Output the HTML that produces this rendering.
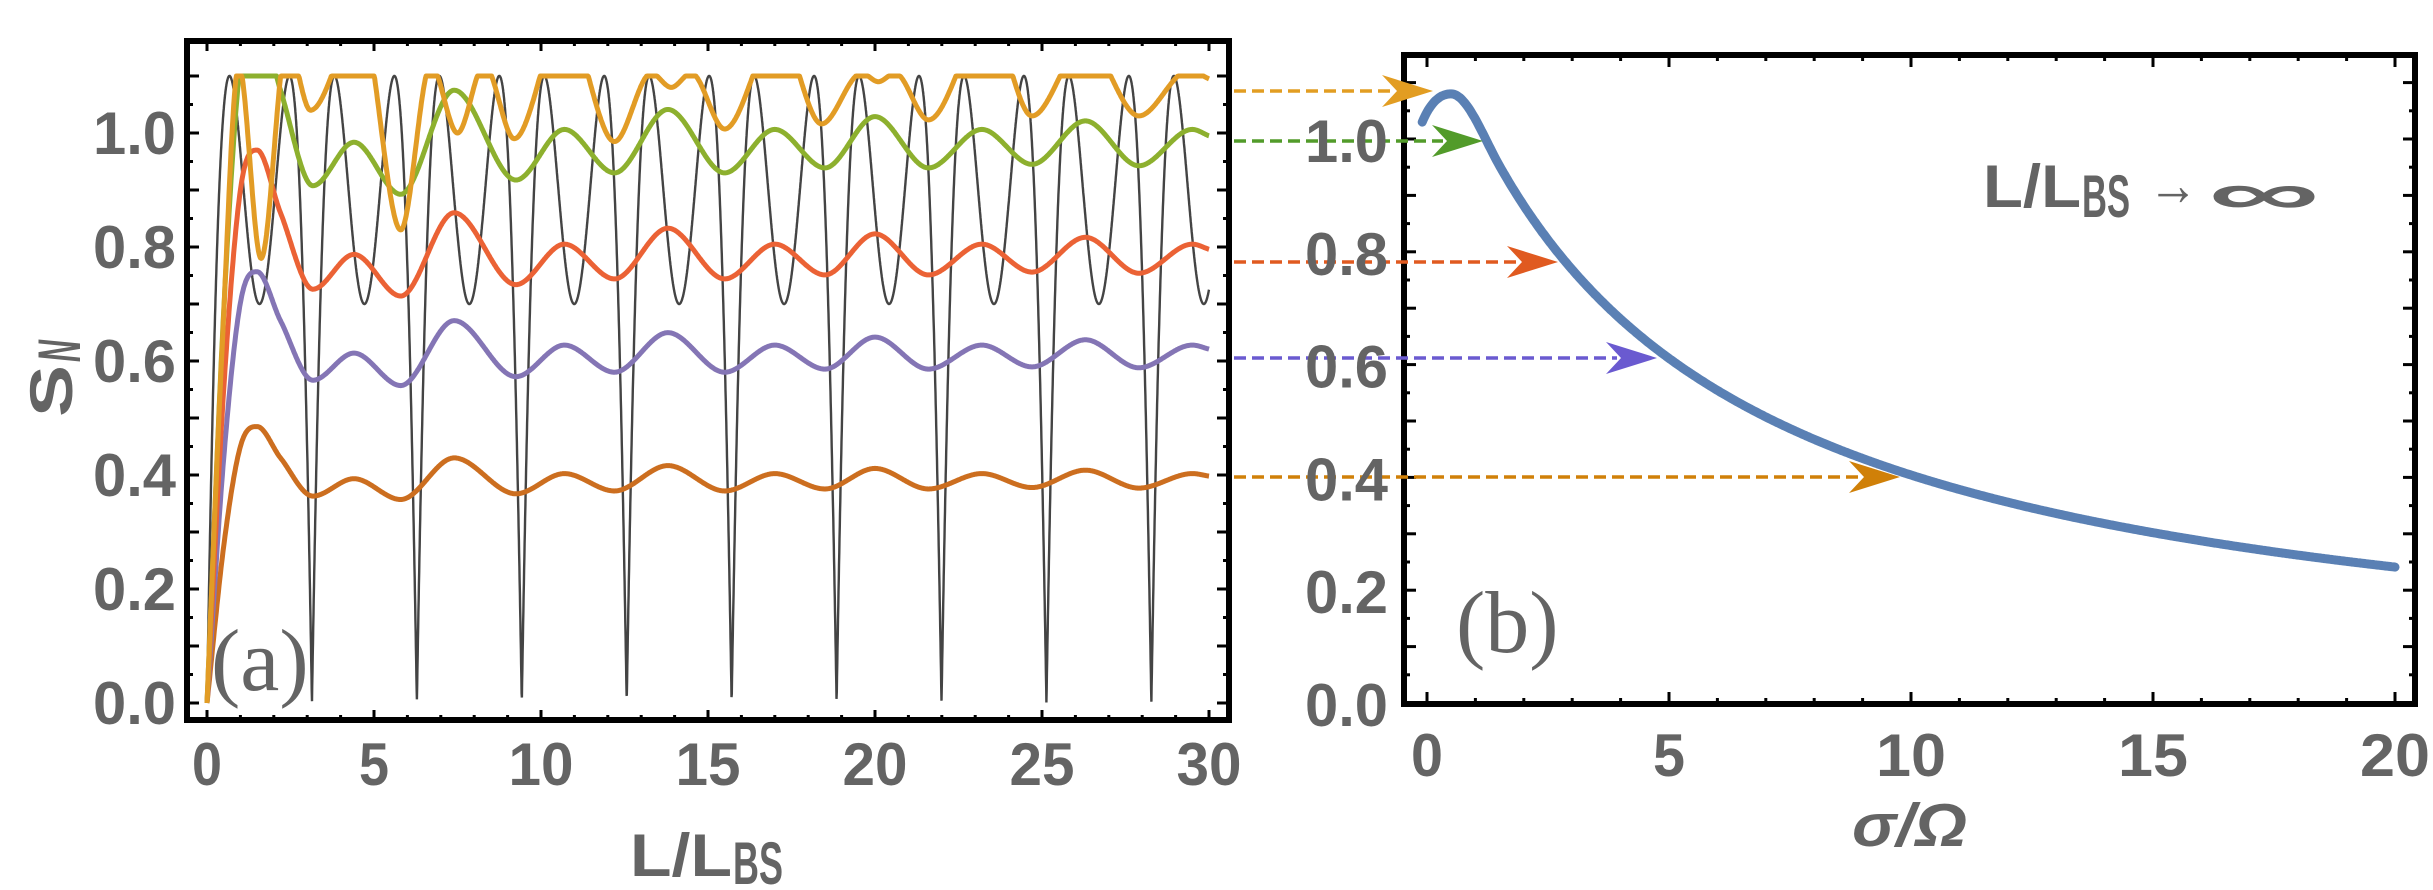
<!DOCTYPE html>
<html><head><meta charset="utf-8"><style>
html,body{margin:0;padding:0;background:#fff;}
svg{display:block;}
.t{font-family:"Liberation Sans Narrow","Liberation Sans",sans-serif;font-weight:bold;fill:#646464;font-size:60px;}
</style></head><body>
<svg id="s" width="2433" height="890" viewBox="0 0 2433 890" xmlns="http://www.w3.org/2000/svg">
<defs>
<clipPath id="ca"><rect x="190" y="44" width="1036" height="673"/></clipPath>
<clipPath id="cb"><rect x="1407" y="58" width="1005" height="643"/></clipPath>
</defs>
<g id="ga" clip-path="url(#ca)"></g>
<g id="gb" clip-path="url(#cb)"></g>
<g id="ticks"></g>
<rect x="187" y="41" width="1042" height="679" fill="none" stroke="#000" stroke-width="6"/>
<rect x="1404" y="55" width="1011" height="649" fill="none" stroke="#000" stroke-width="6"/>
<g id="arrows"></g>
<g id="labels"></g>
<text x="211" y="690" font-family="Liberation Serif,serif" font-size="88" fill="#646464">(a)</text>
<text x="1456" y="652" font-family="Liberation Serif,serif" font-size="88" fill="#646464">(b)</text>
<text class="t" x="630" y="876" textLength="102" lengthAdjust="spacingAndGlyphs">L/L</text>
<text class="t" x="733" y="884" font-size="42" textLength="50" lengthAdjust="spacingAndGlyphs">BS</text>
<text class="t" transform="translate(72,417) rotate(-90)" textLength="52" lengthAdjust="spacingAndGlyphs">S</text>
<text class="t" transform="translate(80,362) rotate(-90)" font-size="40" font-style="italic" textLength="22" lengthAdjust="spacingAndGlyphs">N</text>
<text class="t" x="1852" y="846" textLength="115" lengthAdjust="spacingAndGlyphs" font-style="italic">σ/Ω</text>
<text class="t" x="1983" y="207" textLength="98" lengthAdjust="spacingAndGlyphs">L/L</text>
<text class="t" x="2082" y="217" font-size="42" textLength="48" lengthAdjust="spacingAndGlyphs">BS</text>
<text class="t" x="2148" y="205" font-size="60" textLength="50" lengthAdjust="spacingAndGlyphs">→</text>
<text class="t" x="2208" y="214" font-size="90" textLength="112" lengthAdjust="spacingAndGlyphs">∞</text>
</svg>
<script>
var NS="http://www.w3.org/2000/svg";
function el(p,t,a){var e=document.createElementNS(NS,t);for(var k in a)e.setAttribute(k,a[k]);p.appendChild(e);return e;}
function herm(pts){
  var n=pts.length,m=[];
  for(var i=0;i<n;i++){
    if(i==0)m.push((pts[1][1]-pts[0][1])/(pts[1][0]-pts[0][0]));
    else if(i==n-1)m.push((pts[i][1]-pts[i-1][1])/(pts[i][0]-pts[i-1][0]));
    else{var d1=pts[i][1]-pts[i-1][1],d2=pts[i+1][1]-pts[i][1];
      if(d1*d2<=0)m.push(0);else m.push((pts[i+1][1]-pts[i-1][1])/(pts[i+1][0]-pts[i-1][0]));}
  }
  return function(x){
    var i=0;while(i<n-2&&x>pts[i+1][0])i++;
    var x0=pts[i][0],x1=pts[i+1][0],h=x1-x0,t=(x-x0)/h;
    if(t<0)t=0;if(t>1)t=1;
    var t2=t*t,t3=t2*t;
    return (2*t3-3*t2+1)*pts[i][1]+(t3-2*t2+t)*h*m[i]+(-2*t3+3*t2)*pts[i+1][1]+(t3-t2)*h*m[i+1];
  };
}
function h1(x,x0,y0,m0,x1,y1,m1){var h=x1-x0,t=(x-x0)/h,t2=t*t,t3=t2*t;
  return (2*t3-3*t2+1)*y0+(t3-2*t2+t)*h*m0+(-2*t3+3*t2)*y1+(t3-t2)*h*m1;}
function XA(L){return 207+L*33.4;} function YA(S){return 703-S*570;}
function XB(s){return 1427+s*48.4;} function YB(S){return 703-S*564;}
function path(f,x0,x1,N,X,Y){var d="";for(var i=0;i<=N;i++){var x=x0+(x1-x0)*i/N;d+=(i?"L":"M")+X(x).toFixed(1)+" "+Y(f(x)).toFixed(1);}return d;}
var ga=document.getElementById("ga");
el(ga,"path",{d:path(function(L){var u=Math.abs(Math.sin(L));return 3.527*u-2.827*u*u;},0,30,4000,XA,YA),fill:"none",stroke:"#444","stroke-width":2.4});
var red=herm([[0,0],[0.5,0.55],[1.0,0.9],[1.5,0.97],[2.2,0.86],[3.17,0.726],[4.4,0.787],[5.8,0.714],[7.4,0.86],[9.25,0.734],[10.7,0.805],[12.2,0.744],[13.8,0.833],[15.5,0.744],[17,0.805],[18.5,0.751],[20,0.823],[21.6,0.751],[23.2,0.805],[24.7,0.756],[26.3,0.817],[27.9,0.754],[29.5,0.805],[30,0.796]]);
var org=herm([[0,0],[0.45,0.62],[0.95,1.12],[1.62,0.78],[2.4,1.16],[3.1,1.04],[4.6,1.2],[5.8,0.83],[6.7,1.12],[7.5,1.0],[8.3,1.12],[9.2,0.99],[10.7,1.2],[12.2,0.985],[13.3,1.105],[13.9,1.08],[14.5,1.105],[15.5,1.007],[17.1,1.18],[18.4,1.016],[19.6,1.105],[20.1,1.09],[20.6,1.105],[21.6,1.023],[23.4,1.2],[24.7,1.03],[26.3,1.16],[27.9,1.03],[29.4,1.11],[30,1.095]]);
function cl(f,k){return function(x){return Math.min(1.1,k*f(x));};}
var series=[[cl(red,0.5),"#CC6E1F"],[cl(red,0.78),"#8475B5"],[cl(red,1),"#EB6235"],[cl(red,1.25),"#8DB02E"],[cl(org,1),"#E29C25"]];
series.forEach(function(s){el(ga,"path",{d:path(s[0],0,30,1500,XA,YA),fill:"none",stroke:s[1],"stroke-width":5,"stroke-linejoin":"round"});});
var gb=document.getElementById("gb");
function blue(s){
  if(s<0.5)return h1(s,-0.1,1.03,0.2,0.5,1.08,0);
  if(s<1.5)return h1(s,0.5,1.08,0,1.5,5.97/6.27,-5.97/(6.27*6.27));
  return 5.97/(s+4.77);
}
el(gb,"path",{d:path(blue,-0.1,20,800,XB,YB),fill:"none",stroke:"#5A80B4","stroke-width":9,"stroke-linecap":"round"});
var tk=document.getElementById("ticks");
function tick(x1,y1,x2,y2){el(tk,"line",{x1:x1,y1:y1,x2:x2,y2:y2,stroke:"#000","stroke-width":3});}
for(var L=0;L<=30;L++){var x=XA(L),len=L%5?5:10;tick(x,41,x,41+len);tick(x,720,x,720-len);}
for(var k=0;k<=22;k++){var y=YA(k*0.05),len=k%2?6:12;tick(187,y,187+len,y);tick(1229,y,1229-len,y);}
for(var s=0;s<=20;s++){var x=XB(s),len=s%5?6:12;tick(x,55,x,55+len);tick(x,704,x,704-len);}
for(var k=0;k<=22;k++){var y=YB(k*0.05),len=k%2?6:12;tick(1404,y,1404+len,y);tick(2415,y,2415-len,y);}
var lb=document.getElementById("labels");
function txt(x,y,s,anchor,w){var t=el(lb,"text",{x:x,y:y,"class":"t","text-anchor":anchor,textLength:w,lengthAdjust:"spacingAndGlyphs"});t.textContent=s;}
for(var k=0;k<=5;k++){var v=(k*0.2).toFixed(1);txt(176,YA(k*0.2)+21,v,"end",83);txt(1388,YB(k*0.2)+23,v,"end",83);}
for(var L=0;L<=30;L+=5){txt(XA(L),785,String(L),"middle",L>=10?65:30);}
for(var s=0;s<=20;s+=5){txt(XB(s),776,String(s),"middle",s>=10?70:32);}
var ar=document.getElementById("arrows");
[[91,1433,"#E29D22"],[141,1483,"#529B2A"],[262,1558,"#E05A20"],[358,1657,"#6A5AD0"],[477,1900,"#D08008"]].forEach(function(a){
  var y=a[0],xt=a[1];
  el(ar,"line",{x1:1234,y1:y,x2:xt-40,y2:y,stroke:a[2],"stroke-width":3.5,"stroke-dasharray":"12 6"});
  el(ar,"path",{d:"M"+xt+" "+y+"L"+(xt-51)+" "+(y-16)+"L"+(xt-36)+" "+y+"L"+(xt-51)+" "+(y+16)+"Z",fill:a[2]});
});
</script>
</body></html>
